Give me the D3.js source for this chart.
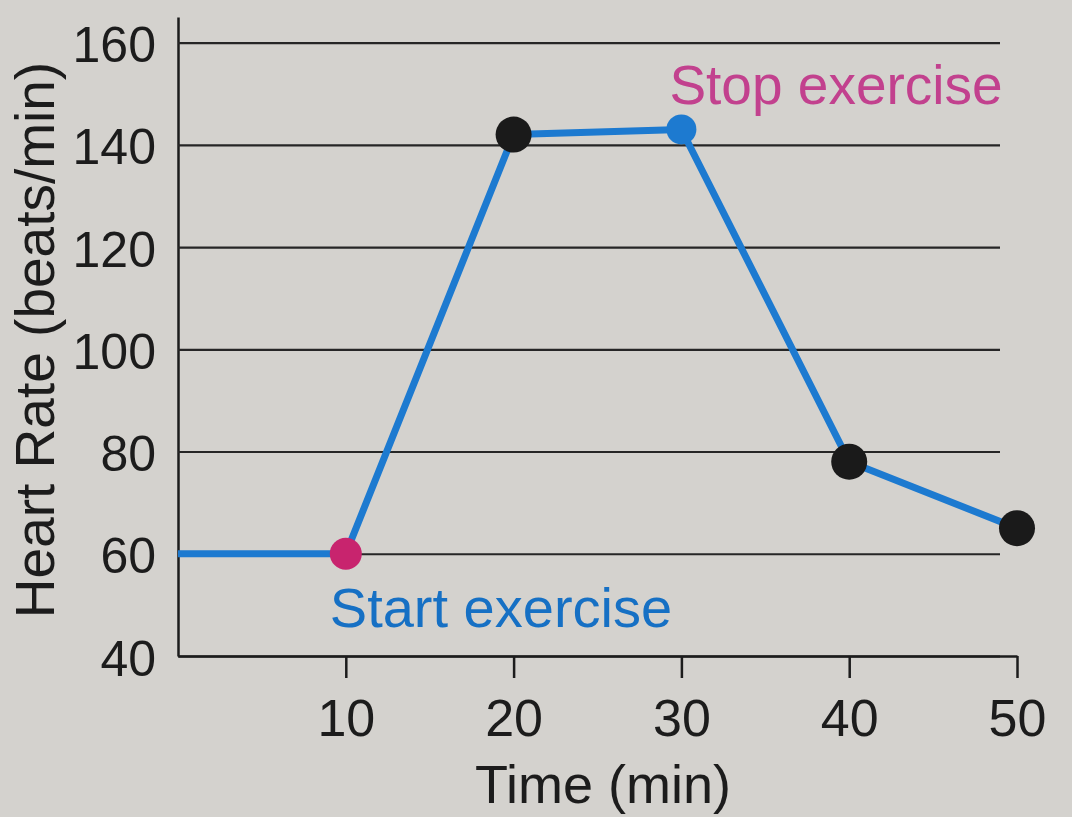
<!DOCTYPE html>
<html>
<head>
<meta charset="utf-8">
<script src="https://cdn.jsdelivr.net/npm/d3@7"></script>
<style>
  html, body { margin: 0; padding: 0; background: #d4d2ce; }
  svg { display: block; }
  text { font-family: "Liberation Sans", Arial, sans-serif; }
</style>
</head>
<body>
<svg id="chart" width="1072" height="817"></svg>
<script>
// Data
const times = [0, 10, 20, 30, 40, 50];
const heartRates = [60, 60, 142, 143, 78, 65];
const pointTimes = [10, 20, 30, 40, 50];
const pointKinds = ["start", "normal", "stop", "normal", "normal"];
const xTicks = [10, 20, 30, 40, 50];
const yTicks = [40, 60, 80, 100, 120, 140, 160];
const annotations = [
  { text: "Start exercise", kind: "start" },
  { text: "Stop exercise", kind: "stop" }
];

(function () {
const svg = d3.select("#chart");
const mLeft = 178, mRight = 1017, mTop = 17, mBottom = 656;
const gridRight = 1000;

const x = d3.scaleLinear().domain([0, 50]).range([mLeft, mRight]);
const y = d3.scaleLinear().domain([40, 165]).range([mBottom, mTop]);

const ink = "#1c1c1c";
const blue = "#1d7ad0";
const magenta = "#c8246e";

// Background
svg.append("rect").attr("width", 1072).attr("height", 817).attr("fill", "#d4d2ce");

// Y axis with gridlines
const yAxis = svg.append("g")
  .attr("transform", `translate(${mLeft},0)`)
  .call(d3.axisLeft(y).tickValues(yTicks).tickSize(-(gridRight - mLeft)).tickSizeOuter(0).tickPadding(22).tickFormat(d3.format("d")));
yAxis.select(".domain").attr("stroke", ink).attr("stroke-width", 2.5);
yAxis.selectAll(".tick line").attr("stroke", "#262626").attr("stroke-width", 2.2);
yAxis.selectAll(".tick text")
  .attr("fill", ink).attr("font-size", 50).attr("dy", "0.38em");

// X axis
const xAxis = svg.append("g")
  .attr("transform", `translate(0,${mBottom})`)
  .call(d3.axisBottom(x).tickValues(xTicks).tickSize(22).tickSizeOuter(0).tickPadding(21).tickFormat(d3.format("d")));
xAxis.select(".domain").attr("stroke", ink).attr("stroke-width", 2.5);
xAxis.selectAll(".tick line").attr("stroke", ink).attr("stroke-width", 2.5);
xAxis.selectAll(".tick text").attr("fill", ink).attr("font-size", 52);

// Axis titles
svg.append("text")
  .attr("transform", `translate(54,340) rotate(-90)`)
  .attr("text-anchor", "middle")
  .attr("font-size", 55)
  .attr("fill", ink)
  .text("Heart Rate (beats/min)");

svg.append("text")
  .attr("x", 603).attr("y", 803)
  .attr("text-anchor", "middle")
  .attr("font-size", 54)
  .attr("fill", ink)
  .text("Time (min)");

// Line
const data = times.map((t, i) => ({ t, v: heartRates[i] }));
const line = d3.line().x(d => x(d.t)).y(d => y(d.v));
svg.append("path")
  .datum(data)
  .attr("d", line)
  .attr("fill", "none")
  .attr("stroke", blue)
  .attr("stroke-width", 7)
  .attr("stroke-linejoin", "round");

// Points
const colorFor = { start: magenta, stop: blue, normal: "#1a1a1a" };
const radiusFor = { start: 16, stop: 15, normal: 18 };
const pts = pointTimes.map((t, i) => ({ t, v: heartRates[times.indexOf(t)], kind: pointKinds[i] }));
svg.selectAll("circle.pt")
  .data(pts)
  .join("circle")
  .attr("class", "pt")
  .attr("cx", d => x(d.t))
  .attr("cy", d => y(d.v))
  .attr("r", d => radiusFor[d.kind])
  .attr("fill", d => colorFor[d.kind]);

// Annotations
const startPt = pts.find(p => p.kind === "start");
const stopPt = pts.find(p => p.kind === "stop");
svg.append("text")
  .attr("x", x(startPt.t) - 16)
  .attr("y", y(startPt.v) + 73)
  .attr("font-size", 56)
  .attr("fill", "#1670c4")
  .text(annotations[0].text);
svg.append("text")
  .attr("x", x(stopPt.t) - 12)
  .attr("y", y(stopPt.v) - 25)
  .attr("font-size", 55)
  .attr("fill", "#c2418e")
  .text(annotations[1].text);
})();
</script>
</body>
</html>
